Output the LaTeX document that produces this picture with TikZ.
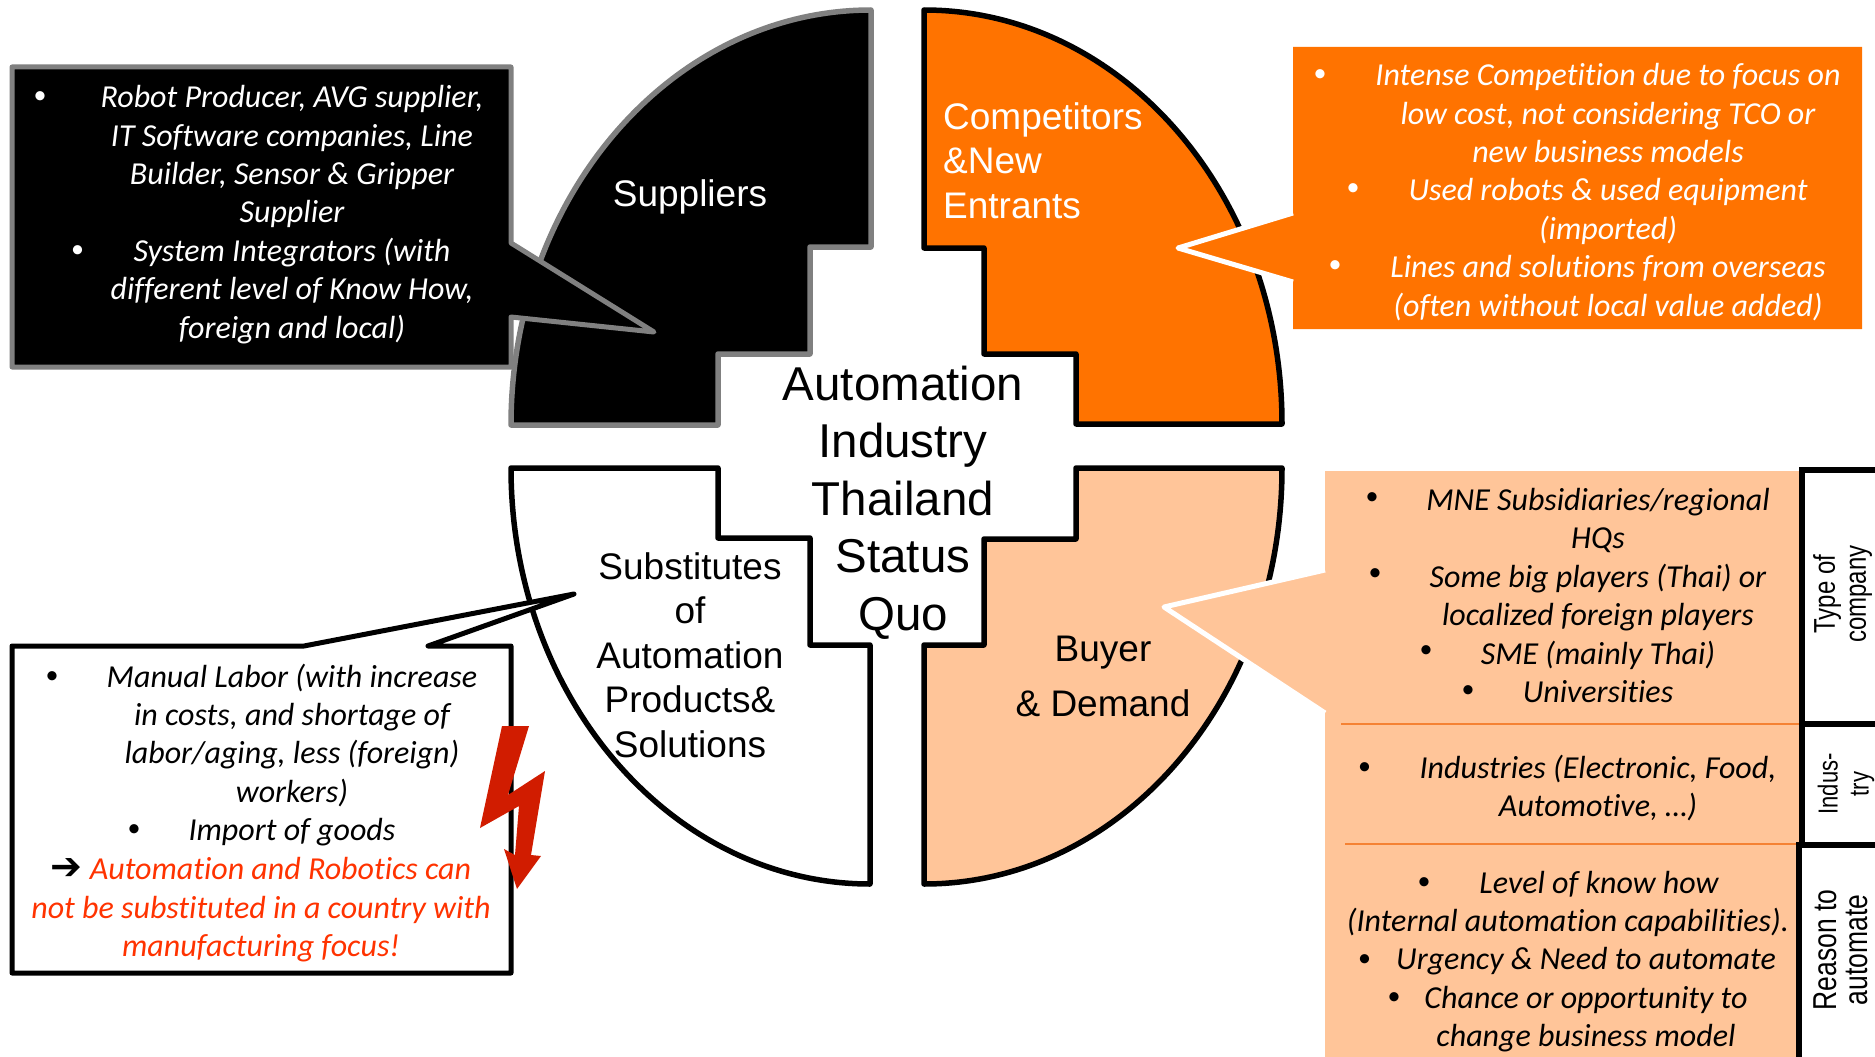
\documentclass[tikz,border=0pt]{standalone}
\usepackage{fontspec}
\setmainfont[Ligatures=NoCommon]{Carlito}
\newfontfamily\arialf{Liberation Sans}
\newfontfamily\djf{DejaVu Sans}
\definecolor{orng}{HTML}{FF7300}
\definecolor{peach}{HTML}{FFC599}
\definecolor{boltred}{HTML}{D11C00}
\definecolor{redtxt}{HTML}{FF3300}
\definecolor{rule}{HTML}{F58233}
\tikzset{
  quad/.style={line width=5.5pt,line join=round,draw=black},
  bodytext/.style={align=center,inner sep=0pt,font=\fontsize{32}{38.4}\selectfont\itshape},
  bul/.style={inner sep=0pt,font=\fontsize{26}{26}\selectfont},
  biglabel/.style={align=center,inner sep=0pt,font=\arialf\fontsize{37}{44.5}\selectfont},
  sidelabel/.style={align=center,inner sep=0pt,rotate=90,yscale=1.25}
}
\begin{document}
\begin{tikzpicture}[x=1pt,y=-1pt]
\useasboundingbox (0,0) rectangle (1875,1057);
\clip (0,0) rectangle (1875,1057);
% quadrants
\draw[quad,fill=black,draw=gray] (511,425) .. controls (511,196) and (672,10) .. (871,10) -- (871,247) -- (810,247) -- (810,354) -- (718,354) -- (718,425) -- cycle;
\draw[quad,fill=orng] (924,10) .. controls (1122,10) and (1282,195) .. (1282,424) -- (1076,424) -- (1076,354) -- (984,354) -- (984,248) -- (924,248) -- cycle;
\draw[quad,fill=white] (511,468) .. controls (511,698) and (672,884) .. (870,884) -- (870,645) -- (810,645) -- (810,538) -- (718,538) -- (718,468) -- cycle;
\draw[quad,fill=peach] (1282,468) .. controls (1282,698) and (1122,884) .. (924,884) -- (924,645) -- (984,645) -- (984,539) -- (1076,539) -- (1076,468) -- cycle;
% callouts
\draw[line width=5pt,line join=round,draw=gray,fill=black] (12,67) -- (511,67) -- (511,243) -- (654,332) -- (511,317) -- (511,367) -- (12,367) -- cycle;
\fill[orng] (1293,47) -- (1862,47) -- (1862,329) -- (1293,329) -- (1293,282) -- (1178,248) -- (1293,213) -- cycle;
\draw[line width=5pt,line join=round,draw=white] (1293,213) -- (1178,248) -- (1293,282);
\fill[peach] (1325,471) -- (1800,471) -- (1800,1060) -- (1325,1060) -- (1325,713) -- (1164,607) -- (1325,570) -- cycle;
\draw[line width=5pt,line join=round,draw=white] (1325,570) -- (1164,607) -- (1325,713);
\draw[line width=5pt,line join=round,fill=white] (12,646) -- (304,646) -- (574,594) -- (428,646) -- (511,646) -- (511,973) -- (12,973) -- cycle;
% bolt
\fill[boltred] (502,726) -- (529,726) -- (508,795) -- (545,771) -- (531,855) -- (541,856) -- (517,889) -- (504,849) -- (515,855) -- (519,806) -- (480,828) -- cycle;
% rules
\coordinate (r1a) at (1341,724); \coordinate (r1b) at (1800,724);
\coordinate (r2a) at (1345,844); \coordinate (r2b) at (1797,844);
\draw[rule,line width=1.5pt] (r1a) -- (r1b);
\draw[rule,line width=1.5pt] (r2a) -- (r2b);
% side boxes
\draw[line width=5.5pt,fill=white] (1802,470) rectangle (1885,724);
\draw[line width=5.5pt,fill=white] (1802,724) rectangle (1885,845);
\draw[line width=5.5pt,fill=white] (1799,845) rectangle (1885,1070);
\node[sidelabel,font=\arialf\fontsize{24}{24.8}\selectfont] (typeco) at (1842.5,594) {Type of\\company};
\node[sidelabel,font=\arialf\fontsize{22}{24.8}\selectfont] (indus) at (1846,784) {Indus-\\try};
\node[sidelabel,font=\arialf\fontsize{26.5}{24.8}\selectfont] (reason) at (1841,950) {Reason to\\automate};
% big labels
\node[biglabel,text=white] (suppliers) at (690,196.5) {Suppliers};
\node[biglabel,text=white,align=left,anchor=west] (comp) at (943,160.5) {Competitors\\\&New\\Entrants};
\node[biglabel] (subst) at (690,655) {Substitutes\\of\\Automation\\Products\&\\Solutions};
\node[biglabel,font=\arialf\fontsize{37}{55}\selectfont] (buyer) at (1103,676) {Buyer\\\& Demand};
\node[biglabel,font=\arialf\fontsize{47.5}{57.5}\selectfont] (center) at (903,502.5) {Automation\\Industry\\Thailand\\Status\\Quo};
% suppliers text
\node[bodytext,text=white] (suptxt) at (292,214.5) {Robot Producer, AVG supplier,\\IT Software companies, Line\\Builder, Sensor \& Gripper\\Supplier\\System Integrators (with\\different level of Know How,\\foreign and local)};
\node[bul,text=white] (sb1) at (40,98) {•};
\node[bul,text=white] (sb2) at (77.5,252) {•};
% competitors text
\node[bodytext,text=white] (comptxt) at (1608,192) {Intense Competition due to focus on\\low cost, not considering TCO or\\new business models\\Used robots \& used equipment\\(imported)\\Lines and solutions from overseas\\(often without local value added)};
\node[bul,text=white] (cb1) at (1320,75.5) {•};
\node[bul,text=white] (cb2) at (1353,189.5) {•};
\node[bul,text=white] (cb3) at (1335,266.5) {•};
% buyer text
\node[bodytext] (buy1) at (1598,595.5) {MNE Subsidiaries/regional\\HQs\\Some big players (Thai) or\\localized foreign players\\SME (mainly Thai)\\Universities};
\node[bul] (bb1) at (1372,499) {•};
\node[bul] (bb2) at (1375,575) {•};
\node[bul] (bb3) at (1426,652) {•};
\node[bul] (bb4) at (1468,692) {•};
\node[bodytext] (buy2) at (1598,788) {Industries (Electronic, Food,\\Automotive, …)};
\node[bul] (bb5) at (1364.5,769) {•};
\node[bodytext] (buy3) at (1599,884) {Level of know how};
\node[bodytext] (buy4) at (1568,922) {(Internal automation capabilities).};
\node[bodytext] (buy5) at (1586,1000) {Urgency \& Need to automate\\Chance or opportunity to\\change business model};
\node[bul] (bb6) at (1424,884) {•};
\node[bul] (bb7) at (1364.5,961) {•};
\node[bul] (bb8) at (1394,999) {•};
% substitutes text
\node[bodytext] (subtxt) at (292,755) {Manual Labor (with increase\\in costs, and shortage of\\labor/aging, less (foreign)\\workers)\\Import of goods};
\node[bodytext,text=redtxt] (subred) at (261,910) {{\color{black}\djf\bfseries\fontsize{38}{38.4}\selectfont ➔} Automation and Robotics can\\not be substituted in a country with\\manufacturing focus!};
\node[bul] (nb1) at (52,678) {•};
\node[bul] (nb2) at (134,831) {•};
\end{tikzpicture}
\end{document}
